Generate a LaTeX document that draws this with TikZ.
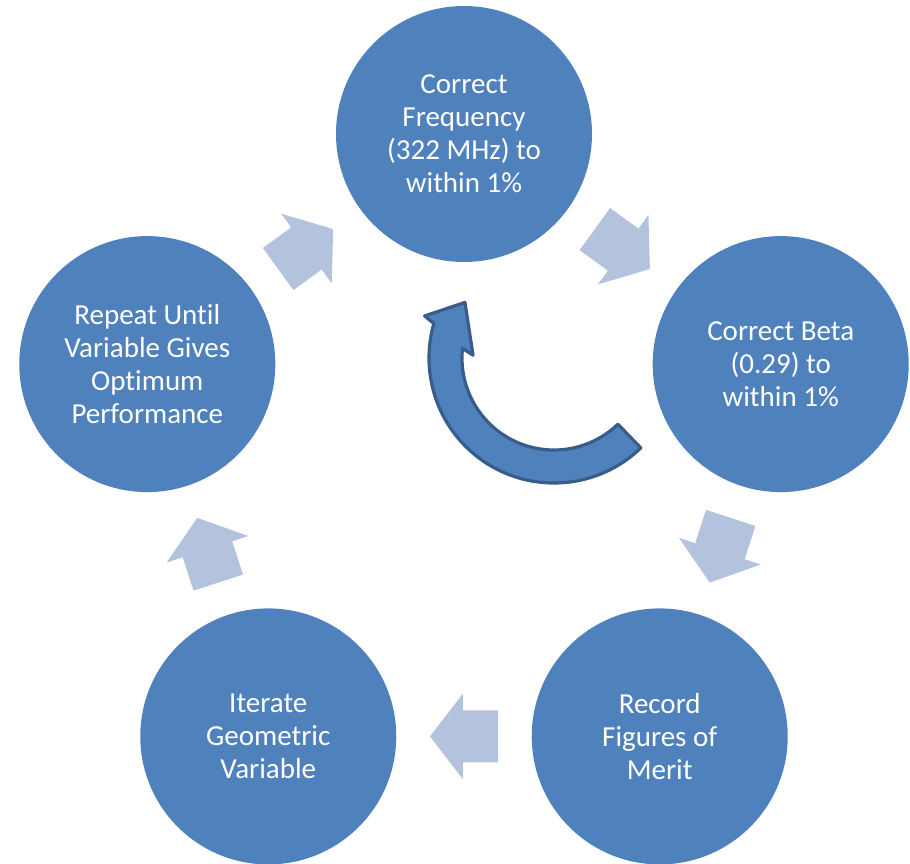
\documentclass[tikz,border=0pt]{standalone}
\usepackage{fontspec}
\setmainfont{Carlito}[Ligatures=NoCommon]
\usetikzlibrary{calc}
\definecolor{discblue}{HTML}{4F81BD}
\definecolor{rimblue}{HTML}{385D8A}
\definecolor{paleblue}{HTML}{B3C2DD}
\tikzset{
  disc/.style={circle,fill=discblue,text=white,minimum size=128pt,inner sep=0pt,
    align=center,font=\fontsize{14.5}{16.5}\selectfont},
  blockarrow/.style={fill=paleblue},
  cyclearrow/.style={fill=discblue,draw=rimblue,line width=1.6pt,line join=round},
}
\begin{document}
\begin{tikzpicture}[x=0.5pt,y=0.5pt]
  \useasboundingbox (-464,-396) rectangle (446,467);
  \node[disc] (freq) at (90:333) {Correct\\Frequency\\(322 MHz) to\\within 1\%};
  \node[disc] (beta) at (18:333) {Correct Beta\\(0.29) to\\within 1\%};
  \node[disc] (merit) at (-54:333) {Record\\Figures of\\Merit};
  \node[disc] (iter) at (-126:333) {Iterate\\Geometric\\Variable};
  \node[disc] (repeat) at (162:333) {Repeat Until\\Variable Gives\\Optimum\\Performance};
  \foreach \s/\t/\a in {repeat/freq/36,freq/beta/-36,beta/merit/-108,merit/iter/180,iter/repeat/108}
    \fill[blockarrow,shift={($(\s)!0.5!(\t)$)},rotate=\a]
      (-34,-26) -- (1,-26) -- (1,-43) -- (34,0) -- (1,43) -- (1,26) -- (-34,26) -- cycle;
  \begin{scope}[shift={(90,109)}]
    \draw[cyclearrow] (-46:125) arc[start angle=-46,end angle=-196,radius=125]
      -- (162:136) -- (148:105) -- (178:81) -- (174:92)
      arc[start angle=174,end angle=314,radius=92] -- cycle;
  \end{scope}
\end{tikzpicture}
\end{document}
